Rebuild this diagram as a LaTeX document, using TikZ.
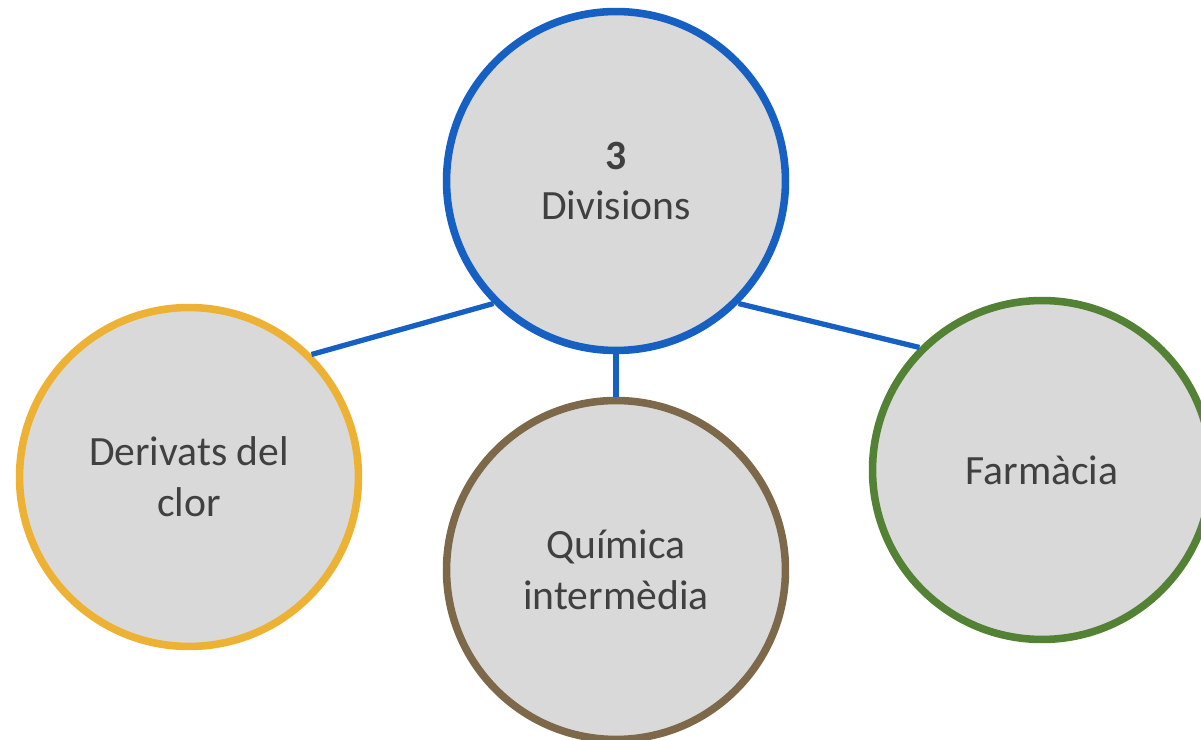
\documentclass[tikz,border=0pt]{standalone}
\usepackage{fontspec}
\setmainfont{Carlito}

\definecolor{divblue}{RGB}{22,96,196}
\definecolor{divgold}{RGB}{237,178,52}
\definecolor{divbrown}{RGB}{126,104,74}
\definecolor{divgreen}{RGB}{84,130,53}
\definecolor{divfill}{RGB}{217,217,217}
\definecolor{divtext}{RGB}{64,64,64}

\begin{document}
\begin{tikzpicture}[x=0.02cm, y=-0.02cm,
    division/.style={circle, line width=4.3pt, fill=divfill, minimum size=6.78cm,
      inner sep=0pt, align=center, text=divtext,
      font=\fontsize{23.7}{29}\selectfont},
    link/.style={draw=divblue, line width=3pt}]
      \useasboundingbox (0,0) rectangle (1201,740);

      % Circles
      \node[division, draw=divblue] (divs) at (616,181) {\textbf{3}\\Divisions};
      \node[division, draw=divgold] (clor) at (189,477) {Derivats del\\clor};
      \node[division, draw=divbrown] (quim) at (616,570) {Química\\intermèdia};
      \node[division, draw=divgreen] (farm) at (1042,470) {Farmàcia};

      % Links
      \draw[link] (divs.225) -- (clor.45);
      \draw[link] (divs.south) -- (quim.north);
      \draw[link] (divs.315) -- (farm.135);
    \end{tikzpicture}
\end{document}
